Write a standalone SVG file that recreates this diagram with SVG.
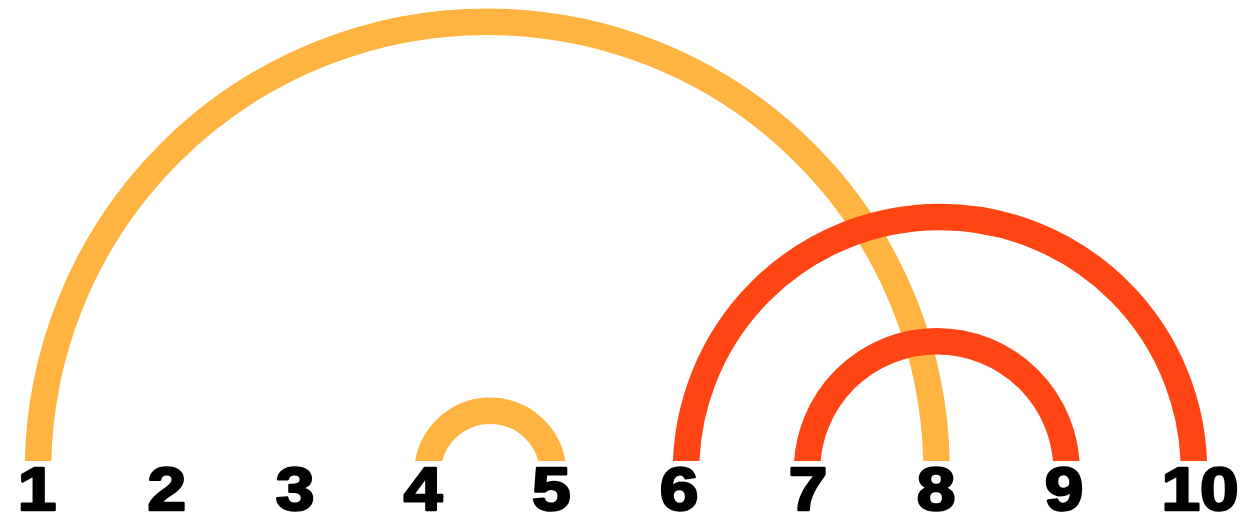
<svg xmlns="http://www.w3.org/2000/svg" width="1257" height="517" viewBox="0 0 1257 517">
<style>
.arc{fill:none;stroke-width:26.5}
.o{stroke:#FFB340}
.r{stroke:#FF4514}
.lbl{font-family:"Liberation Sans",Arial,sans-serif;font-weight:bold;font-size:62px;fill:#000;stroke:#000;stroke-width:2.5;stroke-linejoin:round;text-anchor:middle}
</style>
<defs>
<clipPath id="c"><rect x="0" y="0" width="1257" height="461"/></clipPath>
</defs>
<rect width="1257" height="517" fill="#fff"/>
<g id="connectors" clip-path="url(#c)">
<path class="arc o" d="M38,471 A449.3,449.3 0 0 1 936.6,471"/>
<path class="arc o" d="M427.5,471 A62.8,62.8 0 0 1 553,471"/>
<path class="arc r" d="M686,471 A254,254 0 0 1 1194,471"/>
<path class="arc r" d="M807,471 A129.8,129.8 0 0 1 1066.6,471"/>
</g>
<g id="n1"><text class="lbl" x="37" y="510" transform="translate(37 0) scale(1.12 1) translate(-37 0)">1</text></g>
<g id="n2"><text class="lbl" x="166.7" y="510" transform="translate(166.7 0) scale(1.12 1) translate(-166.7 0)">2</text></g>
<g id="n3"><text class="lbl" x="295" y="510" transform="translate(295 0) scale(1.12 1) translate(-295 0)">3</text></g>
<g id="n4"><text class="lbl" x="423" y="510" transform="translate(423 0) scale(1.12 1) translate(-423 0)">4</text></g>
<g id="n5"><text class="lbl" x="551.3" y="510" transform="translate(551.3 0) scale(1.12 1) translate(-551.3 0)">5</text></g>
<g id="n6"><text class="lbl" x="679" y="510" transform="translate(679 0) scale(1.12 1) translate(-679 0)">6</text></g>
<g id="n7"><text class="lbl" x="808" y="510" transform="translate(808 0) scale(1.12 1) translate(-808 0)">7</text></g>
<g id="n8"><text class="lbl" x="936" y="510" transform="translate(936 0) scale(1.12 1) translate(-936 0)">8</text></g>
<g id="n9"><text class="lbl" x="1064" y="510" transform="translate(1064 0) scale(1.12 1) translate(-1064 0)">9</text></g>
<g id="n10"><text class="lbl" x="1200" y="510" transform="translate(1200 0) scale(1.12 1) translate(-1200 0)">10</text></g>
</svg>
